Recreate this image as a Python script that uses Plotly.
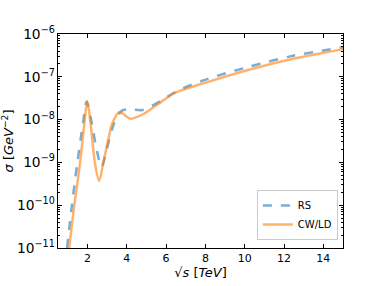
import plotly.graph_objects as go

# sqrt(s) [TeV] and cross sections [GeV^-2]
rs_x = [0.96, 1.2, 1.48, 1.77, 1.96, 2.22, 2.47, 2.72, 2.97, 3.35, 3.74, 4.07, 4.75, 5.08, 5.75, 6.5, 7.97, 10.26, 12.46, 15.0]
rs_y = [1.0e-11, 9.3e-11, 9.5e-10, 8.1e-9, 2.6e-8, 8.1e-9, 1.95e-9, 7.9e-10, 1.95e-9, 8.1e-9,
        1.6e-8, 1.74e-8, 1.66e-8, 1.9e-8, 2.75e-8, 4.5e-8, 8.5e-8, 1.74e-7, 3.1e-7, 4.9e-7]

cw_x = [1.07, 1.32, 1.62, 1.84, 1.99, 2.16, 2.38, 2.59, 2.80, 3.05, 3.26, 3.62, 4.2, 4.9, 5.75, 6.5, 7.97, 10.26, 12.46, 15.0]
cw_y = [1.0e-11, 9.3e-11, 9.5e-10, 8.1e-9, 2.7e-8, 8.1e-9, 9.5e-10, 3.7e-10, 9.5e-10, 3.3e-9,
        8.1e-9, 1.5e-8, 1.05e-8, 1.4e-8, 2.6e-8, 4.3e-8, 7.2e-8, 1.48e-7, 2.63e-7, 4.4e-7]

x_ticks = [2, 4, 6, 8, 10, 12, 14]

fig = go.Figure()
fig.add_trace(go.Scatter(x=rs_x, y=rs_y, mode="lines", name="RS",
                         line=dict(color="rgba(31,119,180,0.6)", width=2.5, dash="dash",
                                   shape="spline", smoothing=0.8)))
fig.add_trace(go.Scatter(x=cw_x, y=cw_y, mode="lines", name="CW/LD",
                         line=dict(color="rgba(255,127,14,0.6)", width=2.5,
                                   shape="spline", smoothing=0.8)))

axis_common = dict(showline=True, linecolor="black", linewidth=1, mirror="ticks",
                   ticks="inside", tickcolor="black", showgrid=False, zeroline=False,
                   automargin=False,
                   tickfont=dict(family="DejaVu Sans", size=11, color="black"))

fig.update_xaxes(range=[0.5, 15], tickvals=x_ticks, ticklen=4,
                 title=dict(text="√<i>s</i> [<i>TeV</i>]", font=dict(family="DejaVu Sans", size=13, color="black"),
                            standoff=0),
                 **axis_common)
fig.update_yaxes(type="log", range=[-11, -6], dtick=1, exponentformat="power", ticklen=4,
                 minor=dict(ticks="inside", ticklen=2, tickcolor="black", dtick="D1", showgrid=False),
                 title=dict(text="<i>σ</i> [<i>GeV</i><sup>−2</sup>]", font=dict(family="DejaVu Sans", size=13, color="black"),
                            standoff=0),
                 **axis_common)

fig.update_layout(
    width=381, height=286,
    margin=dict(l=58, r=38, t=34, b=38),
    paper_bgcolor="white", plot_bgcolor="white",
    font=dict(family="DejaVu Sans", size=11, color="black"),
    legend=dict(x=0.982, y=0.037, xanchor="right", yanchor="bottom",
                bgcolor="rgba(255,255,255,0.8)", bordercolor="#cccccc", borderwidth=1,
                font=dict(size=10), tracegroupgap=0, itemwidth=30),
)

fig.write_html("out.html", config={"displayModeBar": False},
               post_script="document.body.style.margin='0';document.body.style.overflow='hidden';")
